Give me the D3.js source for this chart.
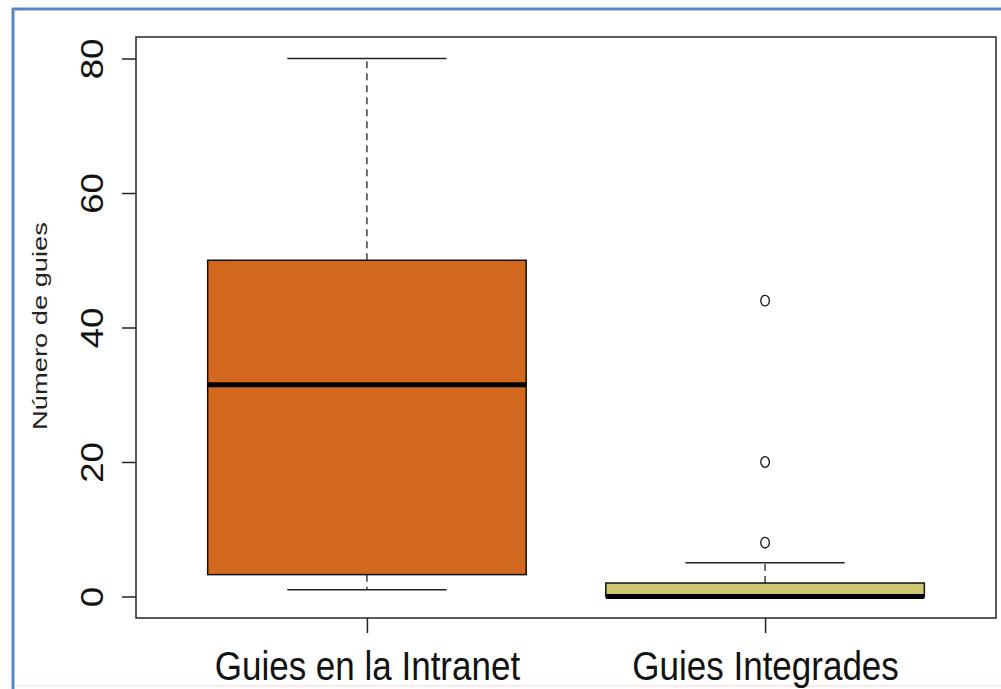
<!DOCTYPE html>
<html>
<head>
<meta charset="utf-8">
<script src="https://cdn.jsdelivr.net/npm/d3@7"></script>
<style>
  html, body { margin: 0; padding: 0; background: #fff; }
  svg { display: block; font-family: "Liberation Sans", Arial, sans-serif; }
</style>
</head>
<body>
<svg id="chart" width="1001" height="689"></svg>
<script>
// Groups and their five-number summaries
const categories = ["Guies en la Intranet", "Guies Integrades"];
const whiskerLow = [1, 0];
const q1 = [3.25, 0];
const median = [31.5, 0];
const q3 = [50, 2];
const whiskerHigh = [80, 5];
const outliers = [[], [8, 20, 44]];
const fills = ["#D2691E", "#CDC673"];
const yTicks = [0, 20, 40, 60, 80];
const yLabel = "Número de guies";

const svg = d3.select("#chart");

// outer decorative border
svg.append("line").attr("x1", 13).attr("x2", 13).attr("y1", 8).attr("y2", 689)
  .attr("stroke", "#5b87bd").attr("stroke-width", 3);
svg.append("line").attr("x1", 12).attr("x2", 1001).attr("y1", 9).attr("y2", 9)
  .attr("stroke", "#5b87bd").attr("stroke-width", 3);
svg.append("line").attr("x1", 15).attr("x2", 1001).attr("y1", 686).attr("y2", 686)
  .attr("stroke", "#f6e6e6").attr("stroke-width", 1.5);

const plot = { left: 136, right: 996, top: 37, bottom: 618 };

// y range padded by 4% as in a base boxplot
const y = d3.scaleLinear().domain([-3.2, 83.2]).range([plot.bottom, plot.top]);
const x = d3.scalePoint().domain(categories)
  .range([plot.left, plot.right]).padding(0.58);
const bw = x.step() * 0.8;

const data = categories.map((c, i) => ({
  cat: c, lo: whiskerLow[i], q1: q1[i], med: median[i], q3: q3[i], hi: whiskerHigh[i],
  out: outliers[i], fill: fills[i]
}));

const g = svg.append("g");
const boxes = g.selectAll("g.box").data(data).join("g").attr("class", "box");
const cx = d => x(d.cat);

// dashed whiskers
boxes.append("line").attr("x1", cx).attr("x2", cx)
  .attr("y1", d => y(d.q3)).attr("y2", d => y(d.hi))
  .attr("stroke", "#222").attr("stroke-width", 1.3).attr("stroke-dasharray", "7,5");
boxes.append("line").attr("x1", cx).attr("x2", cx)
  .attr("y1", d => y(d.q1)).attr("y2", d => y(d.lo))
  .attr("stroke", "#222").attr("stroke-width", 1.3).attr("stroke-dasharray", "7,5");

// staples at half box width
boxes.selectAll("line.staple").data(d => [d.lo, d.hi].map(v => ({ v, d }))).join("line")
  .attr("class", "staple")
  .attr("x1", o => cx(o.d) - bw / 4).attr("x2", o => cx(o.d) + bw / 4)
  .attr("y1", o => y(o.v)).attr("y2", o => y(o.v))
  .attr("stroke", "#222").attr("stroke-width", 1.5);

// boxes
boxes.append("rect")
  .attr("x", d => cx(d) - bw / 2).attr("width", bw)
  .attr("y", d => y(d.q3)).attr("height", d => y(d.q1) - y(d.q3))
  .attr("fill", d => d.fill).attr("stroke", "#111").attr("stroke-width", 1.5);

// medians
boxes.append("line")
  .attr("x1", d => cx(d) - bw / 2).attr("x2", d => cx(d) + bw / 2)
  .attr("y1", d => y(d.med)).attr("y2", d => y(d.med))
  .attr("stroke", "#000").attr("stroke-width", 5);

// outliers
boxes.selectAll("ellipse").data(d => d.out.map(v => ({ v, d }))).join("ellipse")
  .attr("cx", o => cx(o.d)).attr("cy", o => y(o.v)).attr("rx", 4.3).attr("ry", 5.3)
  .attr("fill", "none").attr("stroke", "#111").attr("stroke-width", 1.3);

// plot frame
svg.append("rect").attr("x", plot.left).attr("y", plot.top)
  .attr("width", plot.right - plot.left).attr("height", plot.bottom - plot.top)
  .attr("fill", "none").attr("stroke", "#333").attr("stroke-width", 1.6);

// y axis
const yAxis = svg.append("g").attr("transform", `translate(${plot.left},0)`)
  .call(d3.axisLeft(y).tickValues(yTicks).tickSize(14).tickFormat(d3.format("d")));
yAxis.select(".domain").remove();
yAxis.selectAll(".tick line").attr("stroke", "#222").attr("stroke-width", 1.5);
yAxis.selectAll(".tick text")
  .attr("x", 0).attr("dy", 0)
  .attr("transform", "translate(-33,0) rotate(-90) scale(1.18,1)")
  .attr("text-anchor", "middle")
  .attr("font-size", 31).attr("fill", "#111")
  .attr("font-family", "Liberation Sans, Arial, sans-serif");

// x axis
const xAxis = svg.append("g").attr("transform", `translate(0,${plot.bottom})`)
  .call(d3.axisBottom(x).tickSize(15).tickFormat(d => d));
xAxis.select(".domain").remove();
xAxis.selectAll(".tick line").attr("stroke", "#222").attr("stroke-width", 1.5);
xAxis.selectAll(".tick text")
  .attr("y", 0).attr("dy", 0)
  .attr("transform", "translate(0,62) scale(1,1.15)")
  .attr("font-size", 35).attr("fill", "#111")
  .attr("font-family", "Liberation Sans, Arial, sans-serif");

// y axis title
svg.append("text")
  .attr("transform", `translate(47,326) rotate(-90) scale(1.3,1)`)
  .attr("text-anchor", "middle").attr("font-size", 21).attr("fill", "#222")
  .text(yLabel);
</script>
</body>
</html>
